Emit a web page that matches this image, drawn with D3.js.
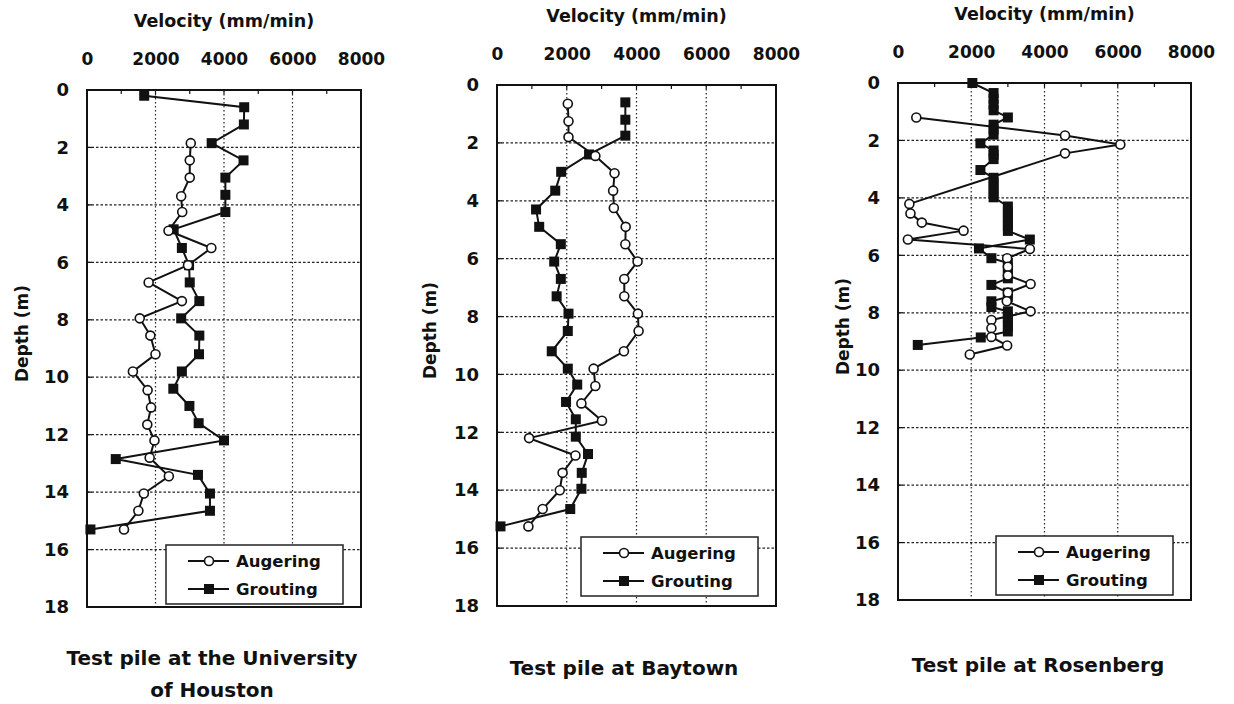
<!DOCTYPE html>
<html>
<head>
<meta charset="utf-8">
<script src="https://cdn.jsdelivr.net/npm/d3@7"></script>
<style>
  body { margin: 0; background: #fff; }
  text { font-family: "DejaVu Sans", sans-serif; font-weight: bold; fill: #111; }
</style>
</head>
<body>
<div id="chart-area"></div>
<script>

const W = 1234
const H = 704

const xTicks = [0, 2000, 4000, 6000, 8000]
const yTicks = [0, 2, 4, 6, 8, 10, 12, 14, 16, 18]
const seriesNames = ['Augering', 'Grouting']

// University of Houston
const uhAugDepth = [1.85, 2.45, 3.05, 3.7, 4.25, 4.9, 5.5, 6.1, 6.7, 7.35, 7.95, 8.55, 9.2, 9.8, 10.45, 11.05, 11.65, 12.2, 12.8, 13.45, 14.05, 14.65, 15.3]
const uhAugVel = [3030, 3000, 3000, 2750, 2780, 2380, 3630, 2950, 1800, 2770, 1540, 1850, 2000, 1340, 1770, 1870, 1760, 1970, 1830, 2390, 1660, 1500, 1080]
const uhGroDepth = [0.2, 0.6, 1.2, 1.85, 2.45, 3.05, 3.65, 4.25, 4.85, 5.5, 6.1, 6.7, 7.35, 7.95, 8.55, 9.2, 9.8, 10.4, 11.0, 11.6, 12.2, 12.85, 13.4, 14.05, 14.65, 15.3]
const uhGroVel = [1670, 4590, 4580, 3640, 4570, 4040, 4040, 4040, 2530, 2770, 2980, 3000, 3280, 2750, 3280, 3270, 2770, 2520, 2990, 3260, 4000, 840, 3240, 3590, 3590, 100]

// Baytown
const btAugDepth = [0.65, 1.25, 1.8, 2.45, 3.05, 3.65, 4.25, 4.9, 5.5, 6.1, 6.7, 7.3, 7.9, 8.5, 9.2, 9.8, 10.4, 11.0, 11.6, 12.2, 12.8, 13.4, 14.0, 14.65, 15.25]
const btAugVel = [2030, 2050, 2050, 2820, 3370, 3330, 3350, 3690, 3680, 4030, 3650, 3650, 4040, 4060, 3640, 2770, 2820, 2420, 3010, 920, 2250, 1880, 1800, 1310, 900]
const btGroDepth = [0.6, 1.2, 1.75, 2.4, 3.0, 3.65, 4.3, 4.9, 5.5, 6.1, 6.7, 7.3, 7.9, 8.5, 9.2, 9.8, 10.35, 10.95, 11.55, 12.15, 12.75, 13.4, 13.95, 14.65, 15.25]
const btGroVel = [3680, 3680, 3680, 2640, 1840, 1670, 1120, 1210, 1830, 1640, 1830, 1710, 2050, 2030, 1570, 2030, 2300, 1980, 2260, 2260, 2610, 2430, 2420, 2100, 100]

// Rosenberg
const rbAugDepth = [1.2, 1.83, 2.14, 2.45, 4.21, 4.54, 4.86, 5.14, 5.45, 5.78, 6.1, 6.4, 6.7, 7.0, 7.3, 7.6, 7.95, 8.25, 8.54, 8.84, 9.14, 9.45]
const rbAugVel = [500, 4560, 6070, 4560, 310, 340, 650, 1790, 270, 3600, 2980, 3000, 3000, 3620, 3000, 2970, 3620, 2550, 2550, 2550, 2980, 1960]
const rbGroDepth = [0.0, 0.35, 0.55, 0.75, 0.95, 1.2, 1.45, 1.62, 1.8, 2.1, 2.35, 2.5, 2.65, 3.03, 3.3, 3.47, 3.64, 3.81, 3.98, 4.3, 4.47, 4.64, 4.81, 4.98, 5.15, 5.45, 5.76, 6.1, 6.27, 6.45, 6.63, 6.8, 7.03, 7.3, 7.45, 7.6, 7.8, 7.95, 8.15, 8.3, 8.48, 8.65, 8.86, 9.12]
const rbGroVel = [2030, 2610, 2610, 2610, 2610, 3000, 2610, 2610, 2610, 2250, 2610, 2610, 2610, 2250, 2610, 2610, 2610, 2610, 2610, 3000, 3000, 3000, 3000, 3000, 3000, 3600, 2210, 2550, 3000, 3000, 3000, 3000, 2550, 3000, 3000, 2550, 2550, 3000, 3000, 3000, 3000, 3000, 2260, 540]

const captions = [['Test pile at the University', 'of Houston'], ['Test pile at Baytown'], ['Test pile at Rosenberg']]

// layout of the three panels (pixels)
const PANELS = [
    { x0: 87, x1: 361, y0: 90, y1: 607, depthX: 22, capX: 212, capY: 665, legBottom: 3,
      aug: [uhAugDepth, uhAugVel], gro: [uhGroDepth, uhGroVel] },
    { x0: 497, x1: 776, y0: 85, y1: 606, depthX: 430, capX: 624, capY: 675, legBottom: 10,
      aug: [btAugDepth, btAugVel], gro: [btGroDepth, btGroVel] },
    { x0: 898, x1: 1191, y0: 83, y1: 600, depthX: 843, capX: 1038, capY: 672, legBottom: 5,
      aug: [rbAugDepth, rbAugVel], gro: [rbGroDepth, rbGroVel] }
]

const svg = d3.select('#chart-area').append('svg')
    .attr('width', W)
    .attr('height', H)

svg.append('rect').attr('width', W).attr('height', H).attr('fill', '#fff')

PANELS.forEach((p, idx) => {
    const x = d3.scaleLinear().domain([0, 8000]).range([p.x0, p.x1])
    const y = d3.scaleLinear().domain([0, 18]).range([p.y0, p.y1])
    const g = svg.append('g')

    // dotted grid
    g.selectAll('.vgrid').data(xTicks.slice(1, -1)).enter().append('line')
        .attr('x1', d => x(d)).attr('x2', d => x(d))
        .attr('y1', p.y0).attr('y2', p.y1)
        .attr('stroke', '#222').attr('stroke-width', 1.2)
        .attr('stroke-dasharray', '1.5,2.5')
    g.selectAll('.hgrid').data(yTicks.slice(1, -1)).enter().append('line')
        .attr('y1', d => y(d)).attr('y2', d => y(d))
        .attr('x1', p.x0).attr('x2', p.x1)
        .attr('stroke', '#222').attr('stroke-width', 1.2)
        .attr('stroke-dasharray', '2.5,2')

    // small inside ticks on top and left edges
    g.selectAll('.mtick').data(d3.range(1000, 8000, 1000)).enter().append('line')
        .attr('x1', d => x(d)).attr('x2', d => x(d))
        .attr('y1', p.y0).attr('y2', p.y0 + 4)
        .attr('stroke', '#111').attr('stroke-width', 1.2)
    g.selectAll('.ltick').data(yTicks.slice(1, -1)).enter().append('line')
        .attr('y1', d => y(d)).attr('y2', d => y(d))
        .attr('x1', p.x0).attr('x2', p.x0 + 5)
        .attr('stroke', '#111').attr('stroke-width', 1.2)

    // frame
    g.append('rect')
        .attr('x', p.x0).attr('y', p.y0)
        .attr('width', p.x1 - p.x0).attr('height', p.y1 - p.y0)
        .attr('fill', 'none').attr('stroke', '#111').attr('stroke-width', 2)

    // axes (labels only)
    const xAxis = g.append('g')
        .attr('transform', `translate(0, ${p.y0 - 25})`)
        .call(d3.axisTop(x).tickValues(xTicks).tickFormat(d3.format('d')).tickSize(0).tickPadding(0))
    xAxis.select('.domain').remove()
    xAxis.selectAll('text').style('font-size', '17px').attr('fill', '#111')

    const yAxis = g.append('g')
        .attr('transform', `translate(${p.x0 - 18}, 0)`)
        .call(d3.axisLeft(y).tickValues(yTicks).tickFormat(d3.format('d')).tickSize(0).tickPadding(0))
    yAxis.select('.domain').remove()
    yAxis.selectAll('text').style('font-size', '18px').attr('fill', '#111')

    // titles
    g.append('text')
        .attr('x', (p.x0 + p.x1) / 2).attr('y', p.y0 - 63)
        .attr('text-anchor', 'middle').style('font-size', '17.5px')
        .text('Velocity (mm/min)')

    const yc = (p.y0 + p.y1) / 2 - 15
    g.append('text')
        .attr('transform', `translate(${p.depthX + 6}, ${yc}) rotate(-90)`)
        .attr('text-anchor', 'middle').style('font-size', '17px')
        .text('Depth (m)')

    captions[idx].forEach((c, k) => {
        g.append('text')
            .attr('x', p.capX).attr('y', p.capY + k * 32)
            .attr('text-anchor', 'middle').style('font-size', '20px')
            .text(c)
    })

    // series
    const line = d3.line().x(d => x(d[1])).y(d => y(d[0]))
    const aug = d3.zip(p.aug[0], p.aug[1])
    const gro = d3.zip(p.gro[0], p.gro[1])
    const clip = `clip${idx}`
    svg.append('clipPath').attr('id', clip).append('rect')
        .attr('x', p.x0 - 6).attr('y', p.y0 - 6)
        .attr('width', p.x1 - p.x0 + 12).attr('height', p.y1 - p.y0 + 12)
    const s = g.append('g').attr('clip-path', `url(#${clip})`)

    s.append('path').datum(gro).attr('d', line)
        .attr('fill', 'none').attr('stroke', '#111').attr('stroke-width', 2)
    s.selectAll('.sq').data(gro).enter().append('rect')
        .attr('x', d => x(d[1]) - 5).attr('y', d => y(d[0]) - 5)
        .attr('width', 10).attr('height', 10).attr('fill', '#111')

    s.append('path').datum(aug).attr('d', line)
        .attr('fill', 'none').attr('stroke', '#111').attr('stroke-width', 2)
    s.selectAll('.ci').data(aug).enter().append('circle')
        .attr('cx', d => x(d[1])).attr('cy', d => y(d[0])).attr('r', 4.5)
        .attr('fill', '#fff').attr('stroke', '#111').attr('stroke-width', 1.6)

    // legend
    const lw = 177, lh = 59
    const lx = p.x1 - 18 - lw
    const ly = p.y1 - p.legBottom - lh
    const lg = g.append('g').attr('transform', `translate(${lx}, ${ly})`)
    lg.append('rect').attr('width', lw).attr('height', lh)
        .attr('fill', '#fff').attr('stroke', '#222').attr('stroke-width', 1.5)
    seriesNames.forEach((name, k) => {
        const cy = 16 + k * 28
        lg.append('line').attr('x1', 22).attr('x2', 63).attr('y1', cy).attr('y2', cy)
            .attr('stroke', '#111').attr('stroke-width', 2)
        if (k === 0) {
            lg.append('circle').attr('cx', 43).attr('cy', cy).attr('r', 4.5)
                .attr('fill', '#fff').attr('stroke', '#111').attr('stroke-width', 1.6)
        } else {
            lg.append('rect').attr('x', 38).attr('y', cy - 5).attr('width', 10).attr('height', 10)
                .attr('fill', '#111')
        }
        lg.append('text').attr('x', 70).attr('y', cy + 6)
            .style('font-size', '16.5px').text(name)
    })
})

</script>
</body>
</html>
